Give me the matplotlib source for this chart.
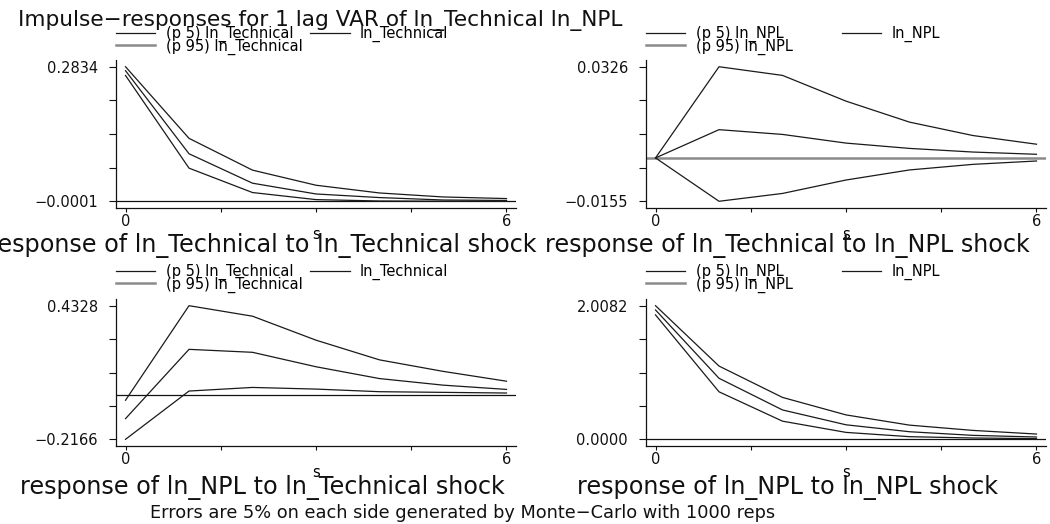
import numpy as np
import matplotlib
matplotlib.use('Agg')
import matplotlib.pyplot as plt
from matplotlib.lines import Line2D

plt.rcParams['font.family'] = ['DejaVu Sans']

# horizon
steps = [0, 1, 2, 3, 4, 5, 6]

# response of ln_Technical to ln_Technical shock
lo_tt = [0.265, 0.0697, 0.0183, 0.0034, 0.0005, 0.0001, -0.0001]
irf_tt = [0.275, 0.100, 0.038, 0.0153, 0.0077, 0.0026, 0.0016]
hi_tt = [0.2834, 0.1325, 0.0655, 0.0337, 0.0174, 0.0090, 0.0056]

# response of ln_Technical to ln_NPL shock
lo_tn = [0.0, -0.0155, -0.0127, -0.0079, -0.0043, -0.0023, -0.0011]
irf_tn = [0.0, 0.0101, 0.0084, 0.0053, 0.0034, 0.0021, 0.0013]
hi_tn = [0.0, 0.0326, 0.0295, 0.0203, 0.0128, 0.0080, 0.0049]

# response of ln_NPL to ln_Technical shock
lo_nt = [-0.2166, 0.0180, 0.0355, 0.0275, 0.0148, 0.0116, 0.0084]
irf_nt = [-0.1161, 0.2206, 0.2062, 0.1360, 0.0786, 0.0467, 0.0259]
hi_nt = [-0.0267, 0.4328, 0.3817, 0.2652, 0.1695, 0.1137, 0.0658]

# response of ln_NPL to ln_NPL shock
lo_nn = [1.8694, 0.7139, 0.2727, 0.1041, 0.0397, 0.0198, 0.0099]
irf_nn = [1.9437, 0.9173, 0.4413, 0.2182, 0.1140, 0.0595, 0.0347]
hi_nn = [2.0082, 1.1008, 0.6297, 0.3669, 0.2132, 0.1339, 0.0793]

captions = [
    'response of ln_Technical to ln_Technical shock',
    'response of ln_Technical to ln_NPL shock',
    'response of ln_NPL to ln_Technical shock',
    'response of ln_NPL to ln_NPL shock',
]
legend_vars = ['ln_Technical', 'ln_NPL', 'ln_Technical', 'ln_NPL']

W, H = 1050, 524


def fx(x):
    return x / W


def fy(y):
    return 1 - y / H


fig = plt.figure(figsize=(10.5, 5.24), dpi=100)

panels = [
    (lo_tt, irf_tt, hi_tt),
    (lo_tn, irf_tn, hi_tn),
    (lo_nt, irf_nt, hi_nt),
    (lo_nn, irf_nn, hi_nn),
]
# left px, top px, bottom px of each plot region
rects = [(116, 60, 208), (646, 60, 208), (116, 299, 446), (646, 299, 446)]
zero_style = [('#111111', 0.9), ('#8a8a8a', 1.8), ('#111111', 0.9), ('#111111', 0.9)]
leg_top = [26, 26, 264, 264]
leg_colsp = [0.55, 3.4, 0.55, 3.4]
cap_base = [252, 252, 494, 494]
cap_cx = [262.5, 787.5, 262.5, 787.5]

for i, (lo, irf, hi) in enumerate(panels):
    left, top, bot = rects[i]
    ax = fig.add_axes([fx(left), fy(bot), 400 / W, (bot - top) / H])
    ax.plot(steps, lo, color='#1a1a1a', lw=0.9)
    ax.plot(steps, irf, color='#1a1a1a', lw=0.9)
    ax.plot(steps, hi, color='#1a1a1a', lw=0.9)
    zc, zw = zero_style[i]
    ax.axhline(0, color=zc, lw=zw, zorder=1)

    ymin = min(min(lo), 0.0)
    ymax = max(hi)
    pad = (ymax - ymin) * 0.05
    ax.set_ylim(ymin - pad, ymax + pad)
    ax.set_xlim(-0.15, 6.15)

    yt = np.linspace(ymin, ymax, 5)
    ax.set_yticks(yt)
    ax.set_yticklabels([f'{ymin:.4f}'.replace('-', '\u2212'), '', '', '',
                        f'{ymax:.4f}'.replace('-', '\u2212')])
    ax.set_xticks([0, 1.5, 3, 4.5, 6])
    ax.set_xticklabels(['0', '', '', '', '6'])
    ax.tick_params(axis='y', direction='out', length=5, width=0.8, pad=8,
                   labelsize=10.5, colors='#111111')
    ax.tick_params(axis='x', direction='out', length=3, width=0.8, pad=1,
                   labelsize=10.5, colors='#111111')
    for side in ['top', 'right']:
        ax.spines[side].set_visible(False)
    for side in ['left', 'bottom']:
        ax.spines[side].set_linewidth(0.9)
        ax.spines[side].set_color('#111111')
    ax.set_xlabel('s', fontsize=10.5, labelpad=-1)

    v = legend_vars[i]
    handles = [
        Line2D([], [], color='#1a1a1a', lw=0.9),
        Line2D([], [], color='#8a8a8a', lw=1.8),
        Line2D([], [], color='#1a1a1a', lw=0.9),
    ]
    labels = [f'(p 5) {v}', f'(p 95) {v}', v]
    ax.legend(handles, labels, ncol=2, loc='upper left',
              bbox_to_anchor=(fx(left), fy(leg_top[i])),
              bbox_transform=fig.transFigure, frameon=False,
              fontsize=10.5, handlelength=2.7, handletextpad=0.7,
              columnspacing=leg_colsp[i], labelspacing=-0.25,
              borderpad=0, borderaxespad=0)

    fig.text(fx(cap_cx[i]), fy(cap_base[i]), captions[i], ha='center',
             va='baseline', fontsize=17.2, color='#111111')

fig.text(fx(18), fy(26), 'Impulse\u2212responses for 1 lag VAR of ln_Technical ln_NPL',
         ha='left', va='baseline', fontsize=15.6, color='#111111')
fig.text(fx(463), fy(518),
         'Errors are 5% on each side generated by Monte\u2212Carlo with 1000 reps',
         ha='center', va='baseline', fontsize=12.8, color='#111111')

plt.savefig('out.png', dpi=100)
